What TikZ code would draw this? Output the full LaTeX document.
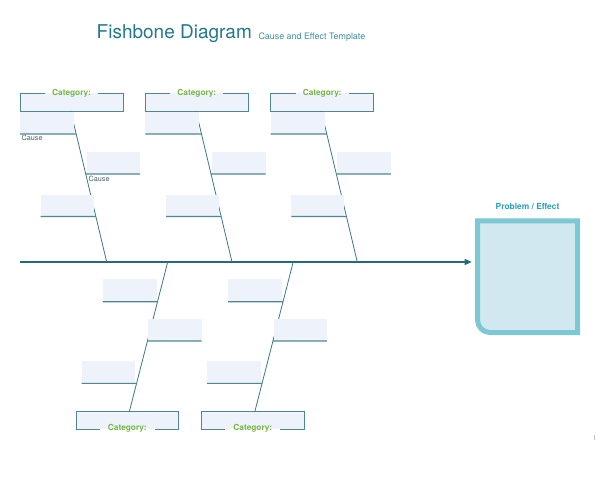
\documentclass[tikz,border=0pt]{standalone}
\usepackage{fontspec}
\setmainfont{TeX Gyre Heros}
\usetikzlibrary{calc,arrows.meta}
\definecolor{titlecol}{HTML}{22798A}
\definecolor{subcol}{HTML}{3A8DA0}
\definecolor{catgreen}{HTML}{78B548}
\definecolor{boxline}{HTML}{4F8790}
\definecolor{causefill}{HTML}{EDF2FB}
\definecolor{bonecol}{HTML}{3C7884}
\definecolor{spinecol}{HTML}{216B7A}
\definecolor{probborder}{HTML}{7CC8D5}
\definecolor{probfill}{HTML}{D2E8F1}
\definecolor{probtext}{HTML}{2A9FB4}
\definecolor{causetext}{HTML}{4A5C63}
\begin{document}
\begin{tikzpicture}[x=1pt,y=-1pt,
  causebox/.style={fill=causefill, draw=none, minimum width=54pt, minimum height=22pt, inner sep=0pt, outer sep=0pt},
  catbox/.style={fill=causefill, draw=none, minimum width=103pt, minimum height=18pt, inner sep=0pt, outer sep=0pt},
  cattext/.style={text=catgreen, font=\bfseries\fontsize{8.3}{10}\selectfont, inner sep=1pt},
  boxedge/.style={draw=boxline, line width=1pt},
  underline/.style={draw=boxline, line width=1.1pt},
  bonestyle/.style={draw=bonecol, line width=0.8pt},
  spinestyle/.style={draw=spinecol, line width=1.4pt},
  causelabel/.style={text=causetext, font=\fontsize{7.2}{8}\selectfont, inner sep=0pt, anchor=west},
  probstyle/.style={draw=probborder, fill=probfill, line width=5pt, line join=miter}
]
\useasboundingbox (0,0) rectangle (602,490);

% title
\node[anchor=base west, inner sep=0pt, text=titlecol, font=\fontsize{19}{22}\selectfont] (title) at (96.5,38.8) {Fishbone Diagram};
\node[anchor=base west, inner sep=0pt, text=subcol, font=\fontsize{8.9}{10}\selectfont] (subtitle) at (258.3,39.8) {Cause and Effect Template};

% problem box
\node[minimum width=100pt, minimum height=111.7pt, inner sep=0pt, outer sep=0pt] (prob) at (527.5,276.65) {};
\path[probstyle] (prob.north west) -- ($(prob.south west)+(0,-12.5)$)
  .. controls ($(prob.south west)+(0,-5.6)$) and ($(prob.south west)+(5.6,0)$) .. ($(prob.south west)+(12.5,0)$)
  -- (prob.south east) -- (prob.north east) -- cycle;
\node[text=probtext, font=\bfseries\fontsize{8.4}{10}\selectfont, inner sep=0pt] (probtitle) at (527.5,206.8) {Problem / Effect};

% spine
\coordinate (spineL) at (20,262);
\draw[spinestyle, -{Triangle[length=7pt,width=6pt]}, shorten >=5.8pt] (spineL) -- (spineL -| prob.west);

% top columns
\foreach \k in {0,1,2}{
  \pgfmathsetmacro{\dx}{125.3*\k}
  \node[catbox] (tcat\k) at (71.5+\dx,102) {};
  \draw[boxedge] ($(tcat\k.north)+(-26.5,0)$) -- (tcat\k.north west) -- (tcat\k.south west) -- (tcat\k.south east) -- (tcat\k.north east) -- ($(tcat\k.north)+(26.5,0)$);
  \node[cattext] (tcatlabel\k) at ($(tcat\k.north)+(0,0.6)$) {Category:};
  \coordinate (tbt\k) at (70.7+\dx,111);
  \coordinate (tbb\k) at (106.7+\dx,262);
  \draw[bonestyle] (tbt\k) -- (tbb\k);
  \node[causebox, anchor=south west] (tca\k) at (20+\dx,134) {};
  \node[causebox, anchor=south west, minimum width=53.5pt] (tcb\k) at (86.7+\dx,174) {};
  \node[causebox, anchor=south west, minimum width=53pt] (tcc\k) at (40.7+\dx,216.5) {};
  \coordinate (tja\k) at ($(tbt\k)!0.1523!(tbb\k)$);
  \coordinate (tjb\k) at ($(tbt\k)!0.4172!(tbb\k)$);
  \coordinate (tjc\k) at ($(tbt\k)!0.6987!(tbb\k)$);
  \draw[underline] (tca\k.south west) -- (tja\k);
  \draw[underline] (tjb\k) -- (tcb\k.south east);
  \draw[underline] (tcc\k.south west) -- (tjc\k);
}

% bottom columns
\foreach \j in {0,1}{
  \pgfmathsetmacro{\dx}{125.5*\j}
  \node[catbox, minimum width=102.5pt, minimum height=17.5pt] (bcat\j) at (127.25+\dx,420.45) {};
  \draw[boxedge] ($(bcat\j.south)+(-27.5,0)$) -- (bcat\j.south west) -- (bcat\j.north west) -- (bcat\j.north east) -- (bcat\j.south east) -- ($(bcat\j.south)+(27.5,0)$);
  \node[cattext] (bcatlabel\j) at ($(bcat\j.south)+(0,-1.2)$) {Category:};
  \coordinate (bbt\j) at (167.7+\dx,262);
  \coordinate (bbb\j) at (129.3+\dx,411.7);
  \draw[bonestyle] (bbt\j) -- (bbb\j);
  \node[causebox, anchor=south west, minimum height=22.5pt] (bca\j) at (102.7+\dx,301.7) {};
  \node[causebox, anchor=south east, minimum width=53.4pt, minimum height=22.5pt] (bcb\j) at (201.7+\dx,341) {};
  \node[causebox, anchor=south west, minimum width=53.3pt, minimum height=22.3pt] (bcc\j) at (81.7+\dx,383.3) {};
  \coordinate (bja\j) at ($(bbt\j)!0.2652!(bbb\j)$);
  \coordinate (bjb\j) at ($(bbt\j)!0.5277!(bbb\j)$);
  \coordinate (bjc\j) at ($(bbt\j)!0.8103!(bbb\j)$);
  \draw[underline] (bca\j.south west) -- (bja\j);
  \draw[underline] (bjb\j) -- (bcb\j.south east);
  \draw[underline] (bcc\j.south west) -- (bjc\j);
}

% cause labels
\node[causelabel] (cl1) at (21.5,138) {Cause};
\node[causelabel] (cl2) at (88.5,179) {Cause};

% small mark
\draw[black!25, line width=0.6pt] (594.5,434.5) -- (594.5,439.5);
\end{tikzpicture}
\end{document}
